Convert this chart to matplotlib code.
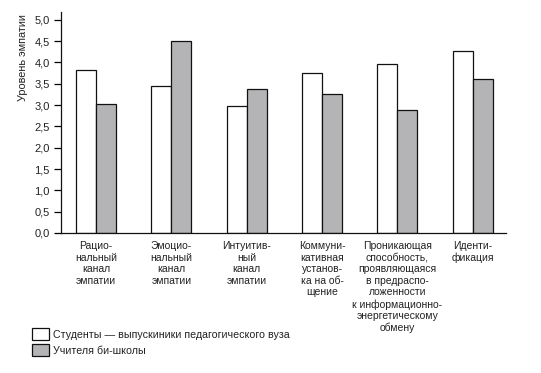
import numpy as np
import matplotlib.pyplot as plt
from matplotlib.patches import Patch
from matplotlib.ticker import FuncFormatter

plt.rcParams['font.family'] = ['Liberation Sans', 'DejaVu Sans']

categories = [
    "Рацио-\nнальный\nканал\nэмпатии",
    "Эмоцио-\nнальный\nканал\nэмпатии",
    "Интуитив-\nный\nканал\nэмпатии",
    "Коммуни-\nкативная\nустанов-\nка на об-\nщение",
    "Проникающая\nспособность,\nпроявляющаяся\nв предраспо-\nложенности\nк информационно-\nэнергетическому\nобмену",
    "Иденти-\nфикация",
]
students = [3.83, 3.45, 2.98, 3.74, 3.95, 4.26]
teachers = [3.02, 4.50, 3.38, 3.26, 2.88, 3.60]
series_names = ["Студенты — выпускиники педагогического вуза", "Учителя би-школы"]
yticks = np.arange(0, 5.01, 0.5)

text_color = '#222222'
gray = '#b4b4b6'

fig = plt.figure(figsize=(5.41, 3.73), dpi=100)
ax = fig.add_axes([61 / 541, (373 - 233) / 373, (506 - 61) / 541, (233 - 12) / 373])

x = np.arange(len(categories))
w = 0.265
ax.bar(x - w / 2, students, width=w, color='white', edgecolor='#111111', linewidth=0.9)
ax.bar(x + w / 2, teachers, width=w, color=gray, edgecolor='#111111', linewidth=0.9)

ax.set_xlim(-0.464, 5.44)
ax.set_ylim(0, 5.18)
ax.set_yticks(yticks)
ax.yaxis.set_major_formatter(FuncFormatter(lambda v, p: f"{v:.1f}".replace('.', ',')))
ax.set_xticks(x)
ax.set_xticklabels(categories, fontsize=7.5, color=text_color, linespacing=1.19, va='top')
ax.tick_params(axis='x', length=0, pad=6)
ax.tick_params(axis='y', length=5, width=0.9, labelsize=8, labelcolor=text_color, pad=3)

for s in ['top', 'right']:
    ax.spines[s].set_visible(False)
for s in ['left', 'bottom']:
    ax.spines[s].set_linewidth(0.9)
    ax.spines[s].set_color('#111111')

fig.text(23 / 541, 1 - 58 / 373, "Уровень эмпатии", rotation=90, fontsize=7.8,
         color=text_color, ha='center', va='center')

handles = [Patch(facecolor='white', edgecolor='#111111', linewidth=0.9),
           Patch(facecolor=gray, edgecolor='#111111', linewidth=0.9)]
fig.legend(handles, series_names, loc='upper left', bbox_to_anchor=(32 / 541, 1 - 328 / 373),
           frameon=False, fontsize=7.7, handlelength=1.6, handleheight=1.35,
           handletextpad=0.35, labelspacing=0.4, borderpad=0, borderaxespad=0,
           labelcolor=text_color)

fig.savefig('out.png', dpi=100)
